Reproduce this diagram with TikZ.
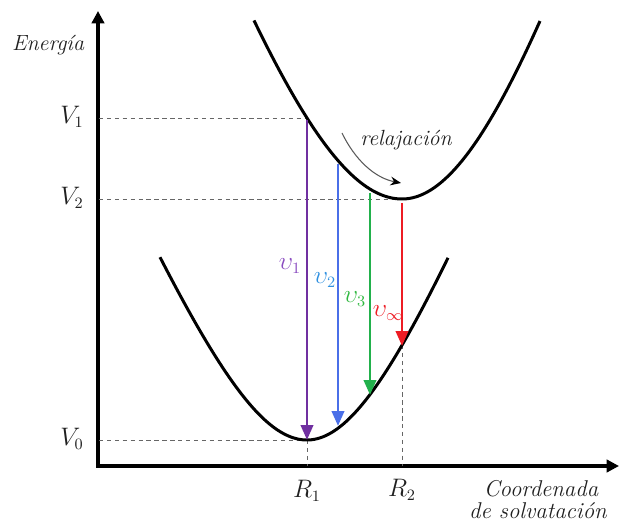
\documentclass[tikz,border=0pt]{standalone}
\usetikzlibrary{arrows.meta}
\definecolor{cpurple}{HTML}{7030A0}
\definecolor{cpurplel}{HTML}{8A4CC0}
\definecolor{cblue}{HTML}{4A6FE8}
\definecolor{cbluel}{HTML}{2F90E0}
\definecolor{cgreen}{HTML}{22B14C}
\definecolor{cgreenl}{HTML}{30B840}
\definecolor{cred}{HTML}{ED1C24}
\definecolor{tcol}{HTML}{202020}
\begin{document}
\begin{tikzpicture}[x=0.02cm,y=-0.02cm,
  axis/.style={line width=2pt,{Triangle[width=7pt,length=7pt]}-{Triangle[width=7pt,length=7pt]}},
  guide/.style={gray!80!black,dashed,line width=0.5pt,dash pattern=on 2.5pt off 2pt},
  curve/.style={line width=1.7pt,black},
  trans/.style={line width=1.6pt,-{Triangle[width=7pt,length=8.5pt]}},
  lbl/.style={inner sep=0pt,font=\fontsize{13.5}{15}\selectfont},
  txt/.style={inner sep=0pt,font=\fontsize{12.5}{15}\selectfont\itshape,text=tcol}]
\useasboundingbox (0,0) rectangle (619,523);
% axes
\coordinate (O) at (98,466);
\coordinate (ytop) at (98,11);
\coordinate (xend) at (619,466);
\draw[axis] (ytop) -- (O) -- (xend);
% key points
\coordinate (V1a) at (99,118);
\coordinate (P1) at (307,118);
\coordinate (V2a) at (99,199);
\coordinate (P2) at (402,199);
\coordinate (V0a) at (99,440);
\coordinate (P0) at (307,440);
\coordinate (R1a) at (307,466);
\coordinate (R2a) at (402,466);
\coordinate (Q2) at (402,345);
% guides
\draw[guide] (V1a) -- (P1);
\draw[guide] (V2a) -- (P2);
\draw[guide] (V0a) -- (P0);
\draw[guide] (P0) -- (R1a);
\draw[guide] (Q2) -- (R2a);
% curves
\draw[curve] plot[domain=-147:141,samples=100,smooth] ({307+\x},{440-(\x<0 ? 235 : 250)*(sqrt(1+(\x/100)^2)-1)});
\draw[curve] plot[domain=-148:138,samples=100,smooth] ({402+\x},{199-(\x<0 ? 441 : 496)*(sqrt(1+(\x/150)^2)-1)});
% transitions
\coordinate (a1) at (307,120);
\coordinate (b1) at (307,440);
\coordinate (a2) at (338,164);
\coordinate (b2) at (338,426);
\coordinate (a3) at (370,193);
\coordinate (b3) at (370,395);
\coordinate (a4) at (402,203);
\coordinate (b4) at (402,346);
\draw[trans,cpurple] (a1) -- (b1);
\draw[trans,cblue] (a2) -- (b2);
\draw[trans,cgreen] (a3) -- (b3);
\draw[trans,cred] (a4) -- (b4);
\node[lbl,text=cpurplel] (n1) at (290,266) {$\upsilon_1$};
\node[lbl,text=cbluel] (n2) at (325,280) {$\upsilon_2$};
\node[lbl,text=cgreenl] (n3) at (355,299) {$\upsilon_3$};
\node[lbl,text=cred] (n4) at (388,313) {$\upsilon_\infty$};
% relaxation
\coordinate (r0) at (342,133);
\coordinate (r1) at (401,183);
\draw[gray!70!black,line width=0.6pt,-{Stealth[length=6pt,width=5pt,black]}] (r0) .. controls (355,160) and (375,178) .. (r1);
\node[txt] (rel) at (406,140) {relajación};
% labels
\node[txt] (en) at (48,45) {Energía};
\node[lbl,text=tcol] (lv1) at (72,117) {$V_1$};
\node[lbl,text=tcol] (lv2) at (72,198) {$V_2$};
\node[lbl,text=tcol] (lv0) at (72,439) {$V_0$};
\node[lbl,text=tcol] (lr1) at (307,491) {$R_1$};
\node[lbl,text=tcol] (lr2) at (402,490) {$R_2$};
\node[txt,font=\fontsize{13}{15}\selectfont\itshape] (c1) at (541,489) {Coordenada};
\node[txt,font=\fontsize{13}{15}\selectfont\itshape] (c2) at (538,511) {de solvatación};
\end{tikzpicture}
\end{document}
